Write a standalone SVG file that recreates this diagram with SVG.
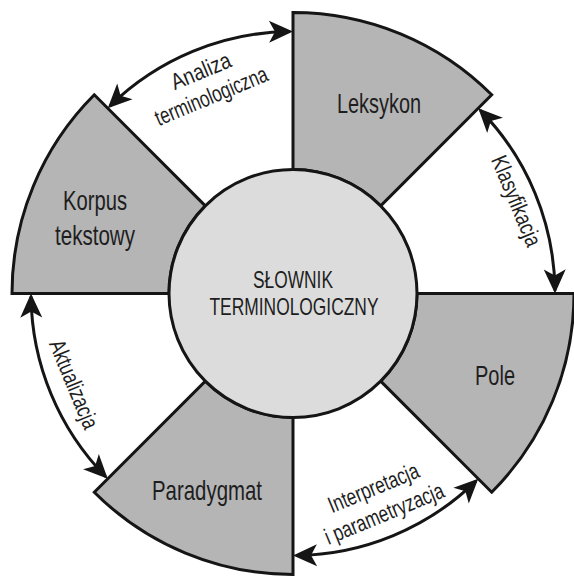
<svg xmlns="http://www.w3.org/2000/svg" width="574" height="577" viewBox="0 0 574 577">
<style>
.sec{fill:#b5b5b5;stroke:#151515;stroke-width:3;stroke-linejoin:miter}
.core{fill:#dcdcdc;stroke:#151515;stroke-width:3}
.lbl{font-family:"Liberation Sans",Arial,sans-serif;fill:#1e1e1e;text-anchor:middle}
.big{font-size:28px}
.mid{font-size:24px}
.arc{font-size:23px}
.con{fill:none;stroke:#151515;stroke-width:3;marker-start:url(#ah);marker-end:url(#ah)}
</style>
<defs>
<marker id="ah" markerUnits="userSpaceOnUse" viewBox="-30 -15 36 30" markerWidth="36" markerHeight="30" refX="0" refY="0" orient="auto-start-reverse" overflow="visible">
<path d="M3,0 L-21,-11 L-15,0 L-21,11 Z" fill="#151515"/>
</marker>
</defs>
<rect width="574" height="577" fill="#fff"/>
<g id="leksykon">
<path class="sec" d="M293,169.5 L293,12.5 A281,281 0 0 1 491.7,94.8 L380.68,205.82 A124,124 0 0 0 293,169.5 Z"/>
<text class="lbl big" x="379" y="113" textLength="84" lengthAdjust="spacingAndGlyphs">Leksykon</text>
</g>
<g id="pole">
<path class="sec" d="M417,293.5 L574,293.5 A281,281 0 0 1 491.7,492.2 L380.68,381.18 A124,124 0 0 0 417,293.5 Z"/>
<text class="lbl big" x="495" y="385" textLength="40" lengthAdjust="spacingAndGlyphs">Pole</text>
</g>
<g id="paradygmat">
<path class="sec" d="M293,417.5 L293,574.5 A281,281 0 0 1 94.3,492.2 L205.32,381.18 A124,124 0 0 0 293,417.5 Z"/>
<text class="lbl big" x="207" y="500" textLength="110" lengthAdjust="spacingAndGlyphs">Paradygmat</text>
</g>
<g id="korpus">
<path class="sec" d="M169,293.5 L12,293.5 A281,281 0 0 1 94.3,94.8 L205.32,205.82 A124,124 0 0 0 169,293.5 Z"/>
<text class="lbl big" x="95" y="210" textLength="64" lengthAdjust="spacingAndGlyphs">Korpus</text>
<text class="lbl big" x="95" y="245" textLength="80" lengthAdjust="spacingAndGlyphs">tekstowy</text>
</g>
<g id="slownik">
<circle class="core" cx="293" cy="293.5" r="124"/>
<text class="lbl mid" x="293" y="288" textLength="80" lengthAdjust="spacingAndGlyphs">SŁOWNIK</text>
<text class="lbl mid" x="294" y="315" textLength="169" lengthAdjust="spacingAndGlyphs">TERMINOLOGICZNY</text>
</g>
<g id="connectors">
<path class="con" d="M109.88,106.12 A262,262 0 0 1 289.98,31.52"/>
<path class="con" d="M480.38,110.38 A262,262 0 0 1 554.98,290.48"/>
<path class="con" d="M476.12,480.88 A262,262 0 0 1 296.02,555.48"/>
<path class="con" d="M105.62,476.62 A262,262 0 0 1 31.02,296.52"/>
<text class="lbl arc" transform="translate(203.84,78.24) rotate(-22.5)" textLength="63" lengthAdjust="spacingAndGlyphs">Analiza</text>
<text class="lbl arc" transform="translate(214.17,103.18) rotate(-22.5)" textLength="120" lengthAdjust="spacingAndGlyphs">terminologiczna</text>
<text class="lbl arc" transform="translate(509.19,203.95) rotate(67.5)" textLength="96" lengthAdjust="spacingAndGlyphs">Klasyfikacja</text>
<text class="lbl arc" transform="translate(376.42,494.91) rotate(-22.5)" textLength="96" lengthAdjust="spacingAndGlyphs">Interpretacja</text>
<text class="lbl arc" transform="translate(387.14,520.77) rotate(-22.5)" textLength="127" lengthAdjust="spacingAndGlyphs">i parametryzacja</text>
<text class="lbl arc" transform="translate(66.65,387.26) rotate(67.5)" textLength="94" lengthAdjust="spacingAndGlyphs">Aktualizacja</text>
</g>
</svg>
